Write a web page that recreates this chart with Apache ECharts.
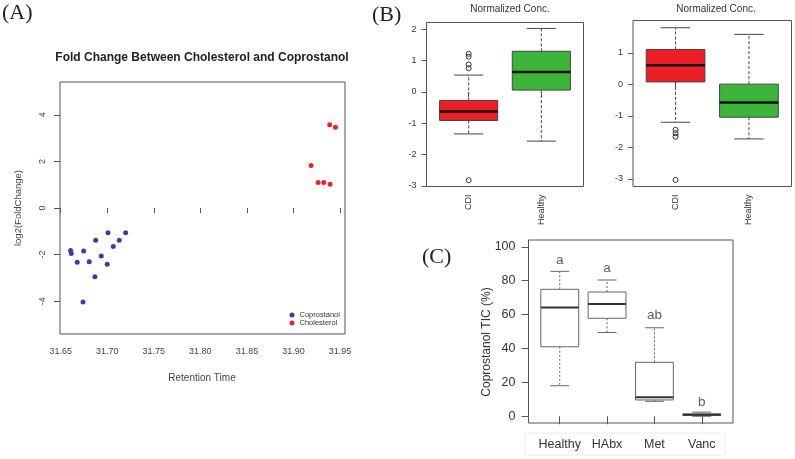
<!DOCTYPE html>
<html><head><meta charset="utf-8">
<script src="https://cdn.jsdelivr.net/npm/echarts@6/dist/echarts.min.js"></script>
<style>html,body{margin:0;padding:0;background:#fff}#c{width:795px;height:459px}</style>
</head><body><div id="c"></div>
<script>
// ---------- Panel A data ----------
const coprostanolRT = [31.6607, 31.6614, 31.6678, 31.6747, 31.6740, 31.6807, 31.6876, 31.6868, 31.6936, 31.7000, 31.7008, 31.7065, 31.7129, 31.7198];
const coprostanolFC = [-1.82, -1.95, -2.33, -1.85, -4.04, -2.31, -1.39, -2.95, -2.06, -2.42, -1.06, -1.65, -1.38, -1.06];
const cholesterolRT = [31.9189, 31.9264, 31.9325, 31.9393, 31.9389, 31.9450];
const cholesterolFC = [1.82, 1.10, 1.10, 1.02, 3.57, 3.47];
const rtTicks = [31.65, 31.70, 31.75, 31.80, 31.85, 31.90, 31.95];
const fcTicks = [-4, -2, 0, 2, 4];

// ---------- Panel B data ----------
const groupsB = ['CDI', 'Healthy'];
// [min, Q1, median, Q3, max]
const boxB1 = [[-1.34, -0.91, -0.62, -0.27, 0.54], [-1.57, 0.06, 0.64, 1.30, 2.03]];
const outliersB1CDI = [1.22, 1.13, 0.88, 0.76, -2.82];
const ticksB1 = [-3, -2, -1, 0, 1, 2];
const boxB2 = [[-1.20, 0.08, 0.61, 1.11, 1.80], [-1.73, -1.04, -0.57, 0.01, 1.59]];
const outliersB2CDI = [-1.44, -1.55, -1.66, -3.03];
const ticksB2 = [-3, -2, -1, 0, 1];

// ---------- Panel C data ----------
const groupsC = ['Healthy', 'HAbx', 'Met', 'Vanc'];
const boxC = [[18.0, 41.0, 64.1, 74.9, 85.5], [49.4, 57.8, 66.3, 73.3, 80.4], [8.8, 9.6, 11.2, 31.8, 52.2], [0.0, 0.4, 0.8, 1.4, 2.4]];
const lettersC = ['a', 'a', 'ab', 'b'];
const letterYC = [92.0, 87.6, 59.8, 8.2];
const ticksC = [0, 20, 40, 60, 80, 100];

const FONT = "'Liberation Sans', Arial, sans-serif";
const SERIF = "'Liberation Serif', 'Times New Roman', serif";
const RED = '#EC1F26', GREEN = '#3DB53A';

function boxRender(opt) {
  return function (params, api) {
    const x = api.value(0), lo = api.value(1), q1 = api.value(2), med = api.value(3), q3 = api.value(4), hi = api.value(5);
    const p = (a, b) => api.coord([a, b]);
    const fill = opt.fills ? opt.fills[params.dataIndex] : '#fff';
    const L = (a, b, st) => ({ type: 'line', shape: { x1: a[0], y1: a[1], x2: b[0], y2: b[1] }, style: st });
    const wst = { stroke: opt.whisker, lineWidth: 1, lineDash: opt.dash };
    const cst = { stroke: opt.whisker, lineWidth: 1 };
    const tl = p(x - 0.4, q3), br = p(x + 0.4, q1);
    return {
      type: 'group', children: [
        L(p(x, q3), p(x, hi), wst),
        L(p(x, q1), p(x, lo), wst),
        L(p(x - 0.2, hi), p(x + 0.2, hi), cst),
        L(p(x - 0.2, lo), p(x + 0.2, lo), cst),
        { type: 'rect', shape: { x: tl[0], y: tl[1], width: br[0] - tl[0], height: br[1] - tl[1] }, style: { fill: fill, stroke: opt.border, lineWidth: 1 } },
        L(p(x - 0.4, med), p(x + 0.4, med), { stroke: opt.median, lineWidth: opt.medianW })
      ]
    };
  };
}

const gridStyle = { show: true, borderColor: '#555', borderWidth: 1, backgroundColor: 'transparent' };
const outlierStyle = { color: 'rgba(255,255,255,0)', borderColor: '#333', borderWidth: 1, opacity: 1 };

const option = {
  animation: false,
  backgroundColor: '#fff',
  textStyle: { fontFamily: FONT },
  grid: [
    Object.assign({ left: 60, top: 82, width: 285, height: 252 }, gridStyle),
    Object.assign({ left: 426.5, top: 22.5, width: 157, height: 164 }, gridStyle),
    Object.assign({ left: 633, top: 20.5, width: 158.5, height: 166 }, gridStyle),
    Object.assign({ left: 528.5, top: 240, width: 204.5, height: 183 }, gridStyle)
  ],
  xAxis: [
    { gridIndex: 0, type: 'value', min: 31.6493, max: 31.9553, splitLine: { show: false }, axisLine: { show: false },
      axisTick: { show: true, length: 5, customValues: rtTicks, lineStyle: { color: '#555' } },
      axisLabel: { customValues: rtTicks, formatter: v => v.toFixed(2), fontSize: 9, color: '#444', margin: 13, fontFamily: FONT } },
    { gridIndex: 1, type: 'value', min: 0.42, max: 2.58, splitLine: { show: false }, axisLine: { show: false },
      axisTick: { show: true, length: 5, customValues: [1, 2], lineStyle: { color: '#555' } },
      axisLabel: { customValues: [1, 2], formatter: v => groupsB[Math.round(v) - 1], rotate: 90, fontSize: 9, color: '#333', margin: 8, fontFamily: FONT } },
    { gridIndex: 2, type: 'value', min: 0.42, max: 2.58, splitLine: { show: false }, axisLine: { show: false },
      axisTick: { show: true, length: 5, customValues: [1, 2], lineStyle: { color: '#555' } },
      axisLabel: { customValues: [1, 2], formatter: v => groupsB[Math.round(v) - 1], rotate: 90, fontSize: 9, color: '#333', margin: 8, fontFamily: FONT } },
    { gridIndex: 3, type: 'value', min: 0.34, max: 4.66, splitLine: { show: false }, axisLine: { show: false },
      axisTick: { show: true, length: 8, customValues: [1, 2, 3, 4], lineStyle: { color: '#555' } },
      axisLabel: { customValues: [1, 2, 3, 4], formatter: v => groupsC[Math.round(v) - 1], fontSize: 12.5, color: '#333', margin: 15, fontFamily: FONT } }
  ],
  yAxis: [
    { gridIndex: 0, type: 'value', min: -5.41, max: 5.41, splitLine: { show: false }, axisLine: { show: false },
      axisTick: { show: true, length: 6, customValues: fcTicks, lineStyle: { color: '#555' } },
      axisLabel: { customValues: fcTicks, rotate: 90, fontSize: 9, color: '#444', margin: 13, fontFamily: FONT } },
    { gridIndex: 1, type: 'value', min: -3.02, max: 2.22, splitLine: { show: false }, axisLine: { show: false },
      axisTick: { show: true, length: 5, customValues: ticksB1, lineStyle: { color: '#555' } },
      axisLabel: { customValues: ticksB1, fontSize: 9, color: '#333', margin: 10, fontFamily: FONT } },
    { gridIndex: 2, type: 'value', min: -3.24, max: 2.03, splitLine: { show: false }, axisLine: { show: false },
      axisTick: { show: true, length: 5, customValues: ticksB2, lineStyle: { color: '#555' } },
      axisLabel: { customValues: ticksB2, fontSize: 9, color: '#333', margin: 10, fontFamily: FONT } },
    { gridIndex: 3, type: 'value', min: -4, max: 104, splitLine: { show: false }, axisLine: { show: false },
      axisTick: { show: true, length: 7, customValues: ticksC, lineStyle: { color: '#555' } },
      axisLabel: { customValues: ticksC, fontSize: 12.5, color: '#333', margin: 13, fontFamily: FONT } }
  ],
  legend: {
    data: ['Coprostanol', 'Cholesterol'], orient: 'vertical', left: 289.5, top: 311, itemWidth: 5, itemHeight: 5, itemGap: 0,
    icon: 'circle', textStyle: { fontSize: 7.5, color: '#333', fontFamily: FONT, padding: 0 }, padding: 0
  },
  series: [
    { name: 'Coprostanol', type: 'scatter', xAxisIndex: 0, yAxisIndex: 0, symbol: 'circle', symbolSize: 5,
      itemStyle: { color: '#3C409C', opacity: 1 }, data: coprostanolRT.map((x, i) => [x, coprostanolFC[i]]) },
    { name: 'Cholesterol', type: 'scatter', xAxisIndex: 0, yAxisIndex: 0, symbol: 'circle', symbolSize: 5,
      itemStyle: { color: '#E0262C', opacity: 1 }, data: cholesterolRT.map((x, i) => [x, cholesterolFC[i]]) },
    { type: 'custom', xAxisIndex: 1, yAxisIndex: 1, encode: { x: 0, y: [1, 2, 3, 4, 5] }, clip: false,
      renderItem: boxRender({ fills: [RED, GREEN], border: '#444', whisker: '#444', dash: [3, 2], median: '#111', medianW: 2.5 }),
      data: boxB1.map((b, i) => [i + 1].concat(b)) },
    { type: 'scatter', xAxisIndex: 1, yAxisIndex: 1, symbol: 'circle', symbolSize: 5,
      itemStyle: outlierStyle, data: outliersB1CDI.map(v => [1, v]) },
    { type: 'custom', xAxisIndex: 2, yAxisIndex: 2, encode: { x: 0, y: [1, 2, 3, 4, 5] }, clip: false,
      renderItem: boxRender({ fills: [RED, GREEN], border: '#444', whisker: '#444', dash: [3, 2], median: '#111', medianW: 2.5 }),
      data: boxB2.map((b, i) => [i + 1].concat(b)) },
    { type: 'scatter', xAxisIndex: 2, yAxisIndex: 2, symbol: 'circle', symbolSize: 5,
      itemStyle: outlierStyle, data: outliersB2CDI.map(v => [1, v]) },
    { type: 'custom', xAxisIndex: 3, yAxisIndex: 3, encode: { x: 0, y: [1, 2, 3, 4, 5] }, clip: false,
      renderItem: boxRender({ fills: null, border: '#666', whisker: '#666', dash: [2, 2], median: '#333', medianW: 2 }),
      data: boxC.map((b, i) => [i + 1].concat(b)) },
    { type: 'scatter', xAxisIndex: 3, yAxisIndex: 3, symbolSize: 0,
      label: { show: true, position: 'inside', formatter: p => lettersC[p.dataIndex], fontSize: 13.5, color: '#333', fontFamily: FONT },
      data: letterYC.map((v, i) => [i + 1, v]) }
  ],
  graphic: [
    { type: 'text', x: 2, y: 13, style: { text: '(A)', font: '22px ' + SERIF, fill: '#222', textVerticalAlign: 'middle' } },
    { type: 'text', x: 372, y: 15, style: { text: '(B)', font: '22px ' + SERIF, fill: '#222', textVerticalAlign: 'middle' } },
    { type: 'text', x: 422, y: 257, style: { text: '(C)', font: '22px ' + SERIF, fill: '#222', textVerticalAlign: 'middle' } },
    { type: 'text', x: 202, y: 58, style: { text: 'Fold Change Between Cholesterol and Coprostanol', font: 'bold 12px ' + FONT, fill: '#222', textAlign: 'center', textVerticalAlign: 'middle' } },
    { type: 'text', x: 202, y: 378, style: { text: 'Retention Time', font: '10px ' + FONT, fill: '#444', textAlign: 'center', textVerticalAlign: 'middle' } },
    { type: 'text', x: 18, y: 208, rotation: Math.PI / 2, style: { text: 'log2(FoldChange)', font: '9.5px ' + FONT, fill: '#444', textAlign: 'center', textVerticalAlign: 'middle' } },
    { type: 'text', x: 510, y: 9.5, style: { text: 'Normalized Conc.', font: '10px ' + FONT, fill: '#333', textAlign: 'center', textVerticalAlign: 'middle' } },
    { type: 'text', x: 716, y: 9.5, style: { text: 'Normalized Conc.', font: '10px ' + FONT, fill: '#333', textAlign: 'center', textVerticalAlign: 'middle' } },
    { type: 'text', x: 487, y: 342, rotation: Math.PI / 2, style: { text: 'Coprostanol TIC (%)', font: '12px ' + FONT, fill: '#333', textAlign: 'center', textVerticalAlign: 'middle' } },
    { type: 'rect', shape: { x: 525, y: 433, width: 200, height: 22 }, style: { fill: 'none', stroke: '#ececec', lineWidth: 1 }, z: -1 }
  ]
};

const chart = echarts.init(document.getElementById('c'), null, { renderer: 'canvas' });
chart.setOption(option);
</script>
</body></html>
